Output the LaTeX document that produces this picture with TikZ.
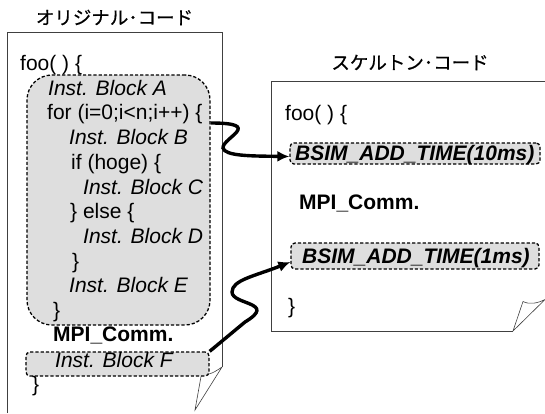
\documentclass[tikz,border=0pt]{standalone}
\usepackage{fontspec}
\setmainfont{Liberation Sans}
\newfontfamily\jpfont[FakeBold=0.6]{Noto Sans CJK JP}
\usetikzlibrary{arrows.meta}
\begin{document}
\begin{tikzpicture}[x=1pt,y=-1pt,
  page/.style={draw=black!75,line width=0.8pt},
  code/.style={anchor=base west,inner sep=0pt,font=\fontsize{21}{25}\selectfont},
  icode/.style={code,font=\fontsize{21}{25}\selectfont\itshape},
  bcode/.style={code,font=\fontsize{21}{25}\selectfont\bfseries},
  bicode/.style={code,font=\fontsize{21}{25}\selectfont\bfseries\itshape},
  dbox/.style={draw=black,dash pattern=on 3.2pt off 2pt,line width=1.3pt,fill=black!13,inner sep=0pt},
  flow/.style={line width=3.4pt,-{Latex[length=12pt,width=11pt]}},
  title/.style={font=\jpfont\fontsize{18.5}{20}\selectfont,inner sep=0pt}]
\fill[white] (0,0) rectangle (545,413);
\path[use as bounding box] (0,0) rectangle (545,413);

% titles
\node[title] (t1) at (114.5,17.5) {オリジナル･コード};
\node[title] (t2) at (410,62.5) {スケルトン･コード};

% left page
\draw[page] (7,413) -- (7,32) -- (222,32) -- (222,367);
\draw[page,line width=0.6pt] (222,367) -- (195,410) -- (202,371)
  .. controls (205,377) and (212,374) .. (222,367);

% right page
\draw[page] (545,81) -- (271,81) -- (271,331) -- (513,331);
\draw[page,line width=0.6pt] (513,331) -- (523,301.5)
  .. controls (530,305) and (538,303) .. (545,299.5) -- cycle;

% dashed boxes (left)
\node[dbox,rounded corners=25pt,minimum width=183pt,minimum height=250pt] (loop) at (118.5,200) {};
\node[dbox,rounded corners=4pt,minimum width=183pt,minimum height=24pt] (fbox) at (117.5,364) {};

% left code
\node[code]  (l0)  at (20,70.5)  {foo( ) \{};
\node[icode] (l1)  at (48,95.2)  {Inst. Block A};
\node[code]  (l2)  at (47,119.9) {for (i=0;i<n;i++) \{};
\node[icode] (l3)  at (69,144.6) {Inst. Block B};
\node[code]  (l4)  at (71,169.3) {if (hoge) \{};
\node[icode] (l5)  at (83,194)   {Inst. Block C};
\node[code]  (l6)  at (70,218.7) {\} else \{};
\node[icode] (l7)  at (83,243.4) {Inst. Block D};
\node[code]  (l8)  at (72,268.1) {\}};
\node[icode] (l9)  at (69,292.8) {Inst. Block E};
\node[code]  (l10) at (53,317.5) {\}};
\node[bcode] (l11) at (53,341.5) {MPI\_Comm.};
\node[icode] (l12) at (55,367.5) {Inst. Block F};
\node[code]  (l13) at (32,391.6) {\}};

% right boxes and code
\node[dbox,rounded corners=4pt,minimum width=250pt,minimum height=21pt] (b10) at (415,153.5) {};
\node[dbox,rounded corners=4pt,minimum width=248pt,minimum height=26pt] (b1) at (415,256) {};
\node[code]   (r0) at (285,120) {foo( ) \{};
\node[bicode] (r1) at (295,160) {BSIM\_ADD\_TIME(10ms)};
\node[bcode]  (r2) at (299,209) {MPI\_Comm.};
\node[bicode] (r3) at (302,263) {BSIM\_ADD\_TIME(1ms)};
\node[code]   (r4) at (288,313) {\}};

% connectors
\coordinate (s1) at (loop.east |- 0,123);
\draw[flow] (s1) .. controls (265,123) and (222,138) .. (223,148)
  .. controls (225,156) and (250,156) .. ([yshift=-3pt]b10.west);
\draw[flow] (fbox.north east) -- (245,322)
  .. controls (278,302) and (232,305) .. (232,292)
  .. controls (232,280) and (255,276) .. ([yshift=-6pt]b1.west);
\end{tikzpicture}
\end{document}
